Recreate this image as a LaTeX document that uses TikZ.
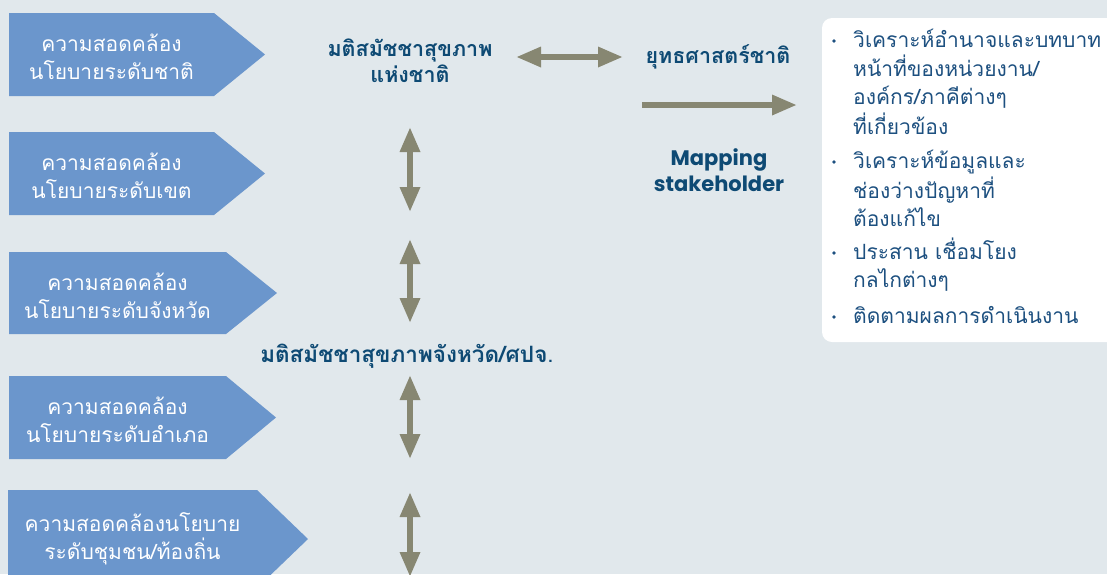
\documentclass[tikz,border=0pt]{standalone}
\usepackage{fontspec}
\setmainfont{Loma}[Script=Thai]
\newfontfamily\latinfont{Poppins}
\usetikzlibrary{arrows.meta}
\definecolor{bg}{HTML}{E1E8EC}
\definecolor{boxc}{HTML}{6B96CC}
\definecolor{arr}{HTML}{878772}
\definecolor{navy}{HTML}{0E4A74}
\definecolor{listc}{HTML}{1D5080}
\tikzset{
  pent/.style={fill=boxc},
  pentlabel/.style={text=white, align=center, font=\fontsize{21}{27.5}\selectfont, inner sep=0pt},
  boldlabel/.style={text=navy, align=center, font=\fontsize{21.5}{26}\selectfont\bfseries, inner sep=0pt},
  listitem/.style={text=listc, anchor=base west, font=\fontsize{21}{28}\selectfont, inner sep=0pt},
  fat/.style={draw=arr, line width=6pt, -{Triangle[width=19pt,length=25pt]}},
  fatboth/.style={draw=arr, line width=6pt, {Triangle[width=19pt,length=25pt]}-{Triangle[width=19pt,length=25pt]}},
  bul/.style={fill=listc},
}
\newcommand{\lst}[1]{\begin{tabular}[t]{@{}l@{}}#1\end{tabular}}
\begin{document}
\begin{tikzpicture}[x=1pt,y=-1pt]
\fill[bg] (0,0) rectangle (1107,574);
\useasboundingbox (0,0) rectangle (1107,574);

% pentagons
\fill[pent] (9,13) -- (214,13) -- (265,54.5) -- (214,96) -- (9,96) -- cycle;
\fill[pent] (9,132) -- (214,132) -- (265,173.5) -- (214,215) -- (9,215) -- cycle;
\fill[pent] (9,252) -- (226,252) -- (277,293) -- (226,334) -- (9,334) -- cycle;
\fill[pent] (9,376) -- (226,376) -- (276,417.5) -- (226,459) -- (9,459) -- cycle;
\fill[pent] (8,490) -- (257,490) -- (308,539) -- (257,588) -- (8,588) -- cycle;

\node[pentlabel] (p1) at (111.5,57) {ความสอดคล้อง\\นโยบายระดับชาติ};
\node[pentlabel] (p2) at (111.5,176) {ความสอดคล้อง\\นโยบายระดับเขต};
\node[pentlabel] (p3) at (117.5,296) {ความสอดคล้อง\\นโยบายระดับจังหวัด};
\node[pentlabel] (p4) at (117.5,420) {ความสอดคล้อง\\นโยบายระดับอำเภอ};
\node[pentlabel] (p5) at (132.5,539) {ความสอดคล้องนโยบาย\\ระดับชุมชน/ท้องถิ่น};

% bold labels
\node[boldlabel] (nat) at (410,61) {มติสมัชชาสุขภาพ\\แห่งชาติ};
\node[boldlabel] (strat) at (718,57) {ยุทธศาสตร์ชาติ};
\node[boldlabel, font=\fontsize{21}{26}\selectfont\latinfont\bfseries] (map) at (719,170) {Mapping\\stakeholder};
\node[boldlabel, font=\fontsize{22.5}{26}\selectfont\bfseries] (prov) at (407,356) {มติสมัชชาสุขภาพจังหวัด/ศปจ{\mdseries .}};

% arrows
\coordinate (h1) at (516,57);
\coordinate (h2) at (623,57);
\draw[fatboth] (h1) -- (h2);
\coordinate (r1) at (642,105);
\coordinate (r2) at (797,105);
\draw[fat] (r1) -- (r2);
\coordinate (v1a) at (410,127); \coordinate (v1b) at (410,212);
\coordinate (v2a) at (410,239); \coordinate (v2b) at (410,323);
\coordinate (v3a) at (410,375); \coordinate (v3b) at (410,459);
\coordinate (v4a) at (410,492); \coordinate (v4b) at (410,577);
\draw[fatboth] (v1a) -- (v1b);
\draw[fatboth] (v2a) -- (v2b);
\draw[fatboth] (v3a) -- (v3b);
\draw[fatboth] (v4a) -- (v4b);

% right panel
\fill[white, rounded corners=10pt] (822,18) rectangle (1125,342);
\node[listitem] (l1) at (853,47) {\lst{วิเคราะห์อำนาจและบทบาท\\หน้าที่ของหน่วยงาน/\\องค์กร/ภาคีต่างๆ\\ที่เกี่ยวข้อง}};
\node[listitem] (l2) at (853,168) {\lst{วิเคราะห์ข้อมูลและ\\ช่องว่างปัญหาที่\\ต้องแก้ไข}};
\node[listitem] (l3) at (853,259) {\lst{ประสาน เชื่อมโยง\\กลไกต่างๆ}};
\node[listitem] (l4) at (853,323) {\lst{ติดตามผลการดำเนินงาน}};
\fill[bul] (834,41) circle (1.8);
\fill[bul] (834,162) circle (1.8);
\fill[bul] (834,253) circle (1.8);
\fill[bul] (834,317) circle (1.8);
\end{tikzpicture}
\end{document}
